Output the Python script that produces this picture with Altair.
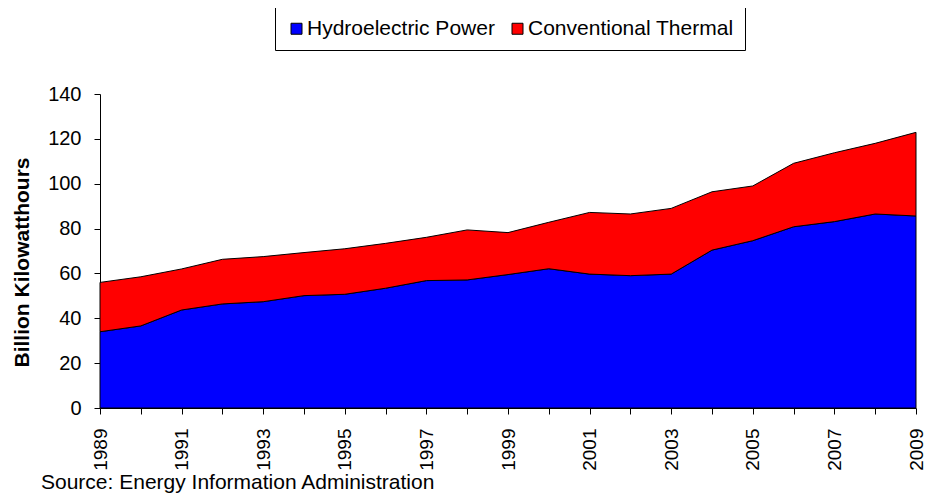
import altair as alt
import pandas as pd

years = list(range(1989, 2010))
hydro = [34.0, 36.6, 43.7, 46.4, 47.4, 50.1, 50.7, 53.4, 56.8, 57.1, 59.5,
         62.1, 59.7, 59.0, 59.7, 70.4, 74.6, 80.8, 83.1, 86.5, 85.6]
thermal = [22.0, 21.9, 18.3, 19.9, 20.1, 19.2, 20.3, 20.0, 19.3, 22.3, 18.7,
           20.7, 27.5, 27.5, 29.3, 26.0, 24.4, 28.3, 30.7, 31.5, 37.3]
series = ["Hydroelectric Power", "Conventional Thermal"]
colors = ["#0000FF", "#FF0000"]
y_ticks = [0, 20, 40, 60, 80, 100, 120, 140]

rows = []
for i, y in enumerate(years):
    rows.append({"year": y, "series": series[0], "value": hydro[i], "order": 0})
    rows.append({"year": y, "series": series[1], "value": thermal[i], "order": 1})
df = pd.DataFrame(rows)

FONT = "Liberation Sans"

chart = alt.Chart(df).mark_area(
    stroke="black", strokeWidth=1, interpolate="linear"
).encode(
    x=alt.X(
        "year:Q",
        scale=alt.Scale(domain=[years[0], years[-1]], nice=False, zero=False),
        axis=alt.Axis(
            title=None,
            values=years,
            format="d",
            labelExpr="datum.value % 2 == 1 ? datum.label : ''",
            labelAngle=270,
            labelFontSize=19,
            labelFont=FONT,
            labelColor="black",
            labelPadding=14,
            tickSize=6,
            tickColor="black",
            domainColor="black",
            grid=False,
            labelOverlap=False,
        ),
    ),
    y=alt.Y(
        "value:Q",
        stack="zero",
        scale=alt.Scale(domain=[0, 140], nice=False),
        axis=alt.Axis(
            title="Billion Kilowatthours",
            values=y_ticks,
            labelFontSize=20,
            labelFont=FONT,
            labelColor="black",
            labelPadding=13,
            tickSize=6,
            tickColor="black",
            domainColor="black",
            grid=False,
            titleFont=FONT,
            titleFontSize=21,
            titleFontWeight="bold",
            titleColor="black",
            titleAngle=270,
            titleX=-78,
            titleY=168,
            titleAlign="center",
            titleBaseline="middle",
        ),
    ),
    color=alt.Color(
        "series:N",
        scale=alt.Scale(domain=series, range=colors),
        legend=alt.Legend(
            title=None,
            orient="none",
            legendX=175,
            legendY=-87,
            direction="horizontal",
            labelFontSize=21,
            labelFont=FONT,
            labelColor="black",
            labelLimit=0,
            symbolType="square",
            symbolSize=121,
            symbolStrokeColor="black",
            symbolStrokeWidth=1,
            symbolOpacity=1,
            strokeColor="black",
            fillColor="white",
            padding=11,
            columnPadding=12,
            labelOffset=0,
        ),
    ),
    order=alt.Order("order:Q"),
).properties(
    width=816,
    height=314,
    autosize=alt.AutoSizeParams(type="none"),
    padding={"left": 92, "top": 86, "right": 11, "bottom": 86},
    title=alt.TitleParams(
        "Source: Energy Information Administration",
        orient="bottom",
        anchor="start",
        frame="group",
        font=FONT,
        fontSize=21,
        fontWeight="normal",
        color="black",
        dx=-59,
        offset=2,
    ),
).configure_view(stroke=None)

chart.save("out.html", embed_options={"renderer": "svg", "actions": False})
